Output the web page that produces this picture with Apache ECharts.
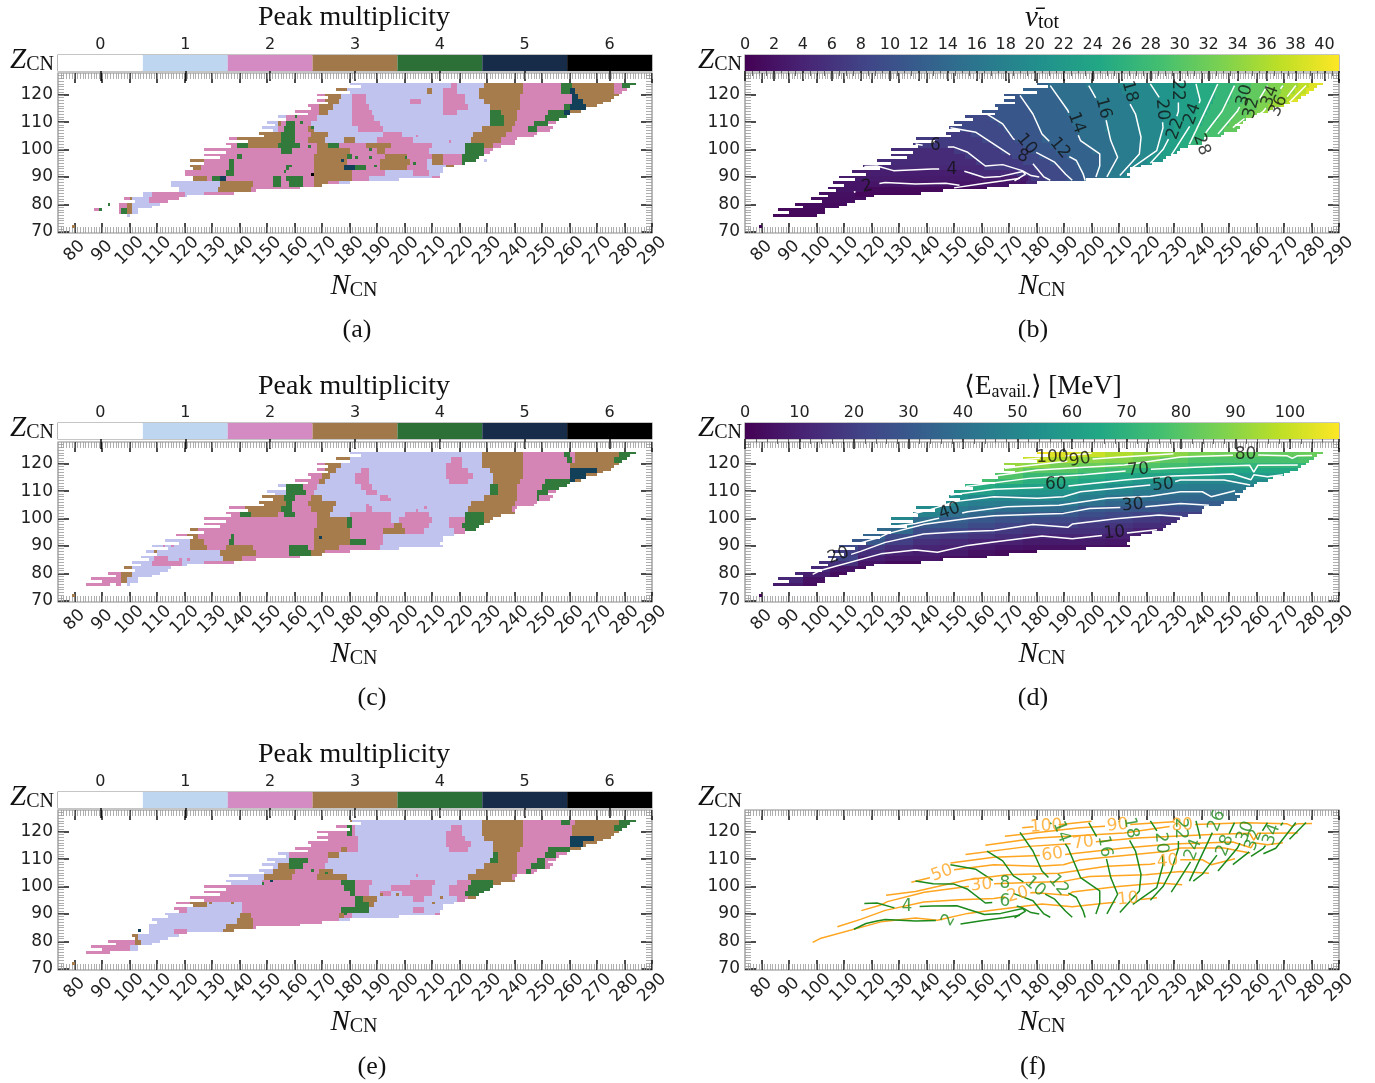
<!DOCTYPE html>
<html><head><meta charset="utf-8">
<style>html,body{margin:0;padding:0;background:#fff}#c{width:1375px;height:1083px}</style>
<script src="https://cdn.jsdelivr.net/npm/echarts@6/dist/echarts.min.js"></script>
</head><body><div id="c"></div>
<script>
const xTicks=[80,90,100,110,120,130,140,150,160,170,180,190,200,210,220,230,240,250,260,270,280,290];
const yTicks=[70,80,90,100,110,120];
const peakLabels=['0','1','2','3','4','5','6'];
// nuclide chart extent, Z = 124 ... 76
const domainTopZ=124;
const domainL=[180,184,175,180,168,172,168,172,165,166,160,165,154,157,150,153,148,152,147,149,136,143,135,137,127,135,127,133,122,127,117,123,113,118,108,114,106,110,104,107,101,104,98,102,92,95,86,90,84];
const domainR=[284,282,281,279,278,276,275,272,270,266,264,260,259,256,255,252,254,253,248,247,241,240,240,235,232,231,229,227,226,222,218,214,214,213,214,198,180,170,162,146,138,121,118,114,111,108,103,103,100];
// rows: Z, start N, value, end N, value, end N ...
const peakA=[
[124,180,1,217,2,219,1,229,3,243,2,257,4,261,3,276,2,279,4,284],
[122,175,3,179,1,208,3,210,1,214,2,219,1,227,3,243,2,257,4,260,5,262,3,276,2,281],
[120,168,2,171,3,177,1,181,2,186,1,214,2,222,1,227,3,242,2,261,5,263,3,278],
[118,168,2,171,3,176,1,181,2,186,1,202,2,206,1,214,2,222,1,229,3,242,2,261,5,265,3,275],
[116,161,2,169,3,174,1,181,2,187,1,214,2,223,1,231,3,242,2,258,4,260,5,266,3,270],
[114,160,2,169,3,172,1,181,2,188,1,214,2,219,1,231,4,235,3,241,2,252,4,258,5,260,3,264],
[112,152,1,157,2,168,1,181,2,189,1,231,4,236,3,241,2,251,4,259],
[110,150,1,154,3,155,2,157,4,160,2,166,1,181,2,191,1,231,4,236,3,240,2,247,4,252,2,255],
[108,148,1,154,2,156,4,160,2,165,3,167,1,183,2,192,1,228,3,239,2,245,4,248,2,254],
[106,142,1,146,3,155,4,160,2,166,3,172,1,192,2,199,1,225,3,237,2,248],
[104,136,2,139,3,155,4,160,2,165,3,171,1,178,3,182,1,190,2,203,1,224,3,235,2,241],
[102,135,2,139,4,143,3,154,4,162,2,168,3,172,4,176,2,186,3,195,2,210,1,222,4,229,3,232,2,240],
[100,127,2,155,4,159,2,168,3,180,2,190,3,193,2,209,1,222,4,229,2,232],
[98,127,2,139,4,141,2,167,3,179,4,181,2,193,3,201,2,210,3,214,2,221,4,229],
[96,122,3,127,2,136,4,138,2,167,3,179,2,191,3,202,2,208,1,210,3,214,2,221,4,226],
[94,122,3,126,2,136,4,138,2,157,4,158,2,167,3,178,5,182,4,186,2,191,3,201,2,208,1,215,3,220,5,222],
[92,120,2,135,4,138,2,167,3,181,2,193,1,203,2,209,1,214],
[90,123,3,128,2,130,4,133,5,135,2,152,4,155,2,157,4,163,2,167,3,181,2,187,1,210,2,213],
[88,115,1,133,3,145,2,152,4,155,2,158,4,163,2,167,3,172,2,176,1,198],
[86,118,1,132,3,144,2,162],
[84,105,1,108,2,120,1,127,2,138],
[82,97,2,100,3,101,1,107,2,119],
[80,91,4,93,0,96,2,99,3,101,1,111],
[78,87,2,89,4,90,0,96,2,97,4,99,3,101,1,103],
[76,99,1,100]];
const speckA=[[79,72,3],[160,112,4],[162,110,4],[166,108,4],[165,101,4],[158,94,4],[156,92,4],[177,96,5],[182,97,4],[187,100,4],[187,97,4],[189,94,4],[203,95,4],[200,97,4],[166,91,6],[229,96,1],[216,103,2],[204,105,2]];
const peakC=[
[124,180,1,228,3,243,2,258,4,260,2,262,3,278,4,284],
[122,175,3,180,1,217,2,221,1,228,3,243,2,259,4,261,2,262,3,276,4,281],
[120,168,2,171,3,177,1,215,2,221,1,228,3,243,2,260,3,278],
[118,168,2,171,3,175,1,184,2,187,1,215,2,223,1,231,3,243,2,260,5,270,3,276],
[116,165,2,170,3,173,1,182,2,187,1,215,2,225,1,232,3,243,2,260,5,266,3,271],
[114,160,2,169,3,171,1,182,2,187,1,216,2,223,1,232,3,242,2,251,4,260,5,262,3,265],
[112,153,1,157,4,163,2,168,1,184,2,188,1,231,4,234,3,241,2,250,4,259],
[110,150,1,157,4,164,2,167,1,186,2,190,1,231,4,234,3,241,2,248,4,252,2,255],
[108,148,3,156,4,160,2,166,3,170,1,191,2,194,1,229,3,241,2,248,4,249,2,254],
[106,144,3,157,4,159,2,165,3,175,1,224,3,240,2,248],
[104,136,2,142,3,155,4,159,2,166,3,174,1,186,2,188,1,223,3,239,2,241],
[102,135,2,140,4,144,3,154,2,156,4,160,2,168,3,173,1,180,2,195,1,200,2,209,1,222,4,229,3,240],
[100,127,2,168,3,179,4,181,2,195,1,198,2,210,1,216,2,222,4,229,3,232],
[98,127,2,168,3,179,4,181,2,196,3,199,2,209,1,216,2,221,4,229],
[96,120,3,125,2,167,3,180,2,192,3,200,2,207,1,218,2,222,4,226],
[94,117,2,121,3,125,2,137,4,138,2,167,3,180,2,192,1,218],
[92,113,1,122,3,127,2,136,4,138,2,167,3,180,4,186,2,192,1,214],
[90,108,1,122,3,128,2,135,3,145,2,158,4,165,2,167,3,176,2,191,1,214],
[88,106,1,133,3,146,2,158,4,166,3,171,2,190,1,198],
[86,104,1,109,2,114,1,134,3,141,2,162],
[84,101,1,108,2,119,1,127,2,138],
[82,98,3,101,1,115],
[80,91,2,97,3,101,1,111],
[78,86,2,97,3,99,1,103],
[76,84,2,93,0,95,2,97,0,99,1,100]];
const speckC=[[79,72,3],[169,93,5],[112,90,2],[115,90,2],[109,88,3],[121,85,2],[118,85,2],[204,103,2],[207,104,2],[186,105,2],[194,107,2]];
const peakE=[
[124,180,3,181,1,228,3,243,2,257,4,260,2,262,3,278,4,284],
[122,175,2,179,4,181,2,182,1,217,2,221,1,228,3,243,2,261,3,276,4,281],
[120,168,2,179,4,181,2,182,1,215,2,221,1,228,3,243,2,261,3,278],
[118,168,2,183,1,215,2,222,1,229,3,243,2,260,5,269,3,275],
[116,165,2,183,1,215,2,224,1,232,3,243,2,260,5,265,3,271],
[114,160,2,177,3,179,2,183,1,216,2,223,1,232,3,242,2,252,4,260,3,264],
[112,153,1,158,2,172,3,176,1,232,4,234,3,241,2,251,4,255,2,259],
[110,150,1,158,4,165,2,172,1,231,4,234,3,241,2,248,4,251,2,255],
[108,148,1,154,3,158,4,163,2,171,1,229,3,241,2,246,4,251,2,254],
[106,147,1,152,3,160,2,169,3,174,1,226,3,241,2,244,4,246,2,248],
[104,136,1,149,3,159,2,168,3,179,1,223,3,239,2,241],
[102,135,1,148,2,177,4,182,2,188,1,202,2,211,1,219,2,224,4,232,3,240],
[100,127,2,178,4,182,2,187,1,195,2,210,1,216,2,223,4,232],
[98,127,2,180,4,182,2,187,1,191,2,195,1,199,2,210,1,216,2,222,4,229],
[96,122,2,182,4,185,3,190,1,203,2,207,1,219,2,223,3,226],
[94,117,2,122,3,128,1,141,2,182,4,187,3,189,1,218],
[92,116,2,121,1,141,2,177,4,187,1,203,2,207,1,214],
[90,113,1,140,3,144,2,176,3,178,2,181,1,211,2,213],
[88,108,1,139,3,145,2,176,1,198],
[86,107,1,135,3,145,2,162],
[84,107,1,116,2,121,1,134,3,139],
[82,101,3,103,1,118],
[80,92,2,102,3,104,1,111],
[78,86,2,100,1,103],
[76,84,2,93]];
const speckE=[[79,72,3],[151,102,5],[148,101,4],[103,84,5],[171,105,4],[166,106,4],[204,104,2],[210,94,3],[213,96,3],[197,97,3],[191,97,3],[129,94,3],[137,94,3],[178,90,4]];
const nuRows=[
[124,180,13,184,15,198,17,210,19,221,21,232,23,238,25,246,27,252,29,258,31,264,33,270,35,275,37,279,39,284],
[122,175,13,186,15,200,17,211,19,223,21,232,23,238,25,245,27,251,29,257,31,263,33,269,35,274,37,278,39,281],
[120,168,11,174,13,188,15,201,17,213,19,224,21,232,23,239,25,245,27,251,29,256,31,262,33,268,35,272,37,276,39,278],
[118,168,11,176,13,189,15,202,17,214,19,225,21,232,23,239,25,244,27,250,29,255,31,261,33,266,35,271,37,273,39,275],
[116,165,11,177,13,190,15,203,17,215,19,225,21,232,23,238,25,243,27,248,29,254,31,260,33,264,35,269,37,270],
[114,160,11,178,13,191,15,204,17,216,19,226,21,232,23,238,25,242,27,247,29,253,31,258,33,262,35,264],
[112,154,9,163,11,179,13,192,15,205,17,216,19,226,21,231,23,237,25,241,27,246,29,251,31,256,33,259],
[110,150,9,166,11,180,13,193,15,205,17,217,19,226,21,230,23,236,25,240,27,244,29,250,31,254,33,255],
[108,148,9,168,11,181,13,194,15,205,17,217,19,226,21,230,23,235,25,238,27,243,29,248,31,254],
[106,147,7,156,9,170,11,182,13,195,15,206,17,218,19,225,21,229,23,234,25,237,27,241,29,248],
[104,136,7,160,9,172,11,182,13,196,15,207,17,218,19,225,21,228,23,232,25,236,27,241],
[102,135,7,164,9,175,11,185,13,198,15,208,17,218,19,224,21,227,23,231,25,235,27,240],
[100,127,5,150,7,167,9,178,11,187,13,200,15,208,17,218,19,224,21,226,23,232],
[98,127,5,154,7,171,9,181,11,191,13,203,15,209,17,217,19,222,21,225,23,229],
[96,122,5,158,7,175,9,185,11,194,13,203,15,209,17,215,19,220,21,226],
[94,117,4.6,161,7,179,9,188,11,195,13,202,15,208,17,214,19,218],
[92,113,3.4,156,5,173,7,182,9,190,11,196,13,202,15,206,17,212,19,214],
[90,108,3,177,5,178,7,183,9,191,11,197,13,202,15,206,17,210,19,214],
[88,106,2.4,176,5,180,7,185,9,192,11,198],
[86,104,2.2,118,1,162],
[84,101,1.8,114,0.8,138],
[82,98,1.5,119],
[80,92,1.2,111],
[78,86,1,103],
[76,84,0.8,100]];
const speckNu=[[79,72,0.5]];
const eRows=[
[124,180,108,185,104,195,100,205,96,215,92,225,90,235,87,245,85,255,83,265,83,275,84,284],
[122,175,100,185,96,195,90,205,89,215,86,225,81,235,78,245,78,255,77,265,77,275,78,281],
[120,168,92,175,90,185,86,195,84,205,81,215,79,225,76,235,73,245,71,278],
[118,168,87,175,81,185,80,195,77,205,74,215,70,225,68,235,67,245,65,275],
[116,165,79,175,73,185,72,195,68,205,66,215,63,225,61,235,60,245,58,255,59,265,60,270],
[114,160,76,165,72,175,68,185,67,195,64,205,60,215,57,225,52,235,50,255,52,264],
[112,154,70,155,67,165,64,175,62,185,61,195,58,205,53,215,49,225,46,235,45,259],
[110,150,62,155,60,165,57,175,56,185,55,195,50,205,47,215,44,225,41,235,40,245,41,255],
[108,148,55,155,51,165,50,175,51,185,50,195,45,205,41,215,39,225,37,235,36,245,38,254],
[106,147,50,155,46,165,45,175,44,195,40,205,36,215,34,225,32,248],
[104,136,52,145,44,155,41,165,39,185,38,195,31,205,30,215,29,225,26,235,27,241],
[102,135,48,145,40,155,36,165,33,175,31,185,30,195,26,205,24,215,22,225,21,235,20,240],
[100,127,50,135,40,145,33,155,30,165,27,175,25,185,24,195,21,205,20,215,18,225,15,232],
[98,127,45,135,30,145,29,155,25,165,22,175,20,195,17,205,16,215,14,225,12,229],
[96,122,37,135,25,145,23,155,20,165,18,175,16,185,15,205,13,215,10,226],
[94,117,35,125,25,135,20,145,18,155,16,165,14,175,11,205,10,218],
[92,113,30,125,20,135,15,145,13,155,11,165,10,175,8,205,7,214],
[90,108,25,115,18,125,14,135,11,145,10,155,8,165,6,175,5,205,4,214],
[88,106,20,115,14,125,10,135,9,145,8,155,5,165,3,175,2,185,1,198],
[86,104,22,115,9,125,7,145,4,155,3,162],
[84,101,15,115,6,125,3,138],
[82,98,12,105,6,115,3,119],
[80,92,12,95,9,105,3,111],
[78,86,12,95,5,103],
[76,84,8,95,4,100]];
const speckE2=[[79,72,1]];
const nuLevels=[2,4,6,8,10,12,14,16,18,20,22,24,26,28,30,32,34,36,38];
const nuLines=[
[[113.6,84.4],[118,86.5],[122,87.4],[125,88],[136,87.4],[147,87.7],[152,87],null,[150,86],[160,87.5],[168,88.6],[174,89.5]],
[[117.4,93.8],[122,94],[128,92.3],[142,92.9],[151,93],[155,91.7],[161,89.8],[167,90.2],[175,92],[176,91],[172,88.6]],
[[136,102],[142.4,101],[150,100.9],[155,99],[161.4,94],[167.7,94.5],[174.8,92.3],[178,90.5],[181,90]],
[[148.7,108],[158,106.3],[164.5,102],[170.8,97.8],[178.7,94.8],[182.7,90],[185,88.8]],
[[162,113],[167.7,109.4],[171.6,103.9],[178.7,99.6],[186.6,95.4],[190.6,91],[193,88.8]],
[[174,119.8],[178.7,113],[182,105.7],[188,99.6],[194.5,96],[197,91],[197.7,88.7]],
[[185,123.4],[191.4,114.3],[196,103.3],[203,98.4],[203,94],[201.6,90]],
[[199,123.4],[204.8,113],[207,103.3],[209.5,97.2],[205.6,90]],
[[210,124],[216,113],[218,104.5],[217.4,98.4],[210.3,90.5]],
[[221.4,124],[225.3,118],[226,108],[223.7,99.6],[215,93.5]],
[[231.6,124],[231.6,114],[229,105.7],[226,100],[221.4,95]],
[[238,124],[239.5,118],[237,110.6],[230.9,100.9],[229,98]],
[[245.9,124],[242,115.5],[238,107],[235.6,102]],
[[252,123.4],[247.5,114],[240.3,104.5],[237,102]],
[[258,123.4],[253,114],[246,105.7]],
[[264,123.4],[257.7,113],[251.4,108]],
[[269.6,123.4],[262.5,114],[258,111]],
[[274.3,123.4],[267,114],[262.5,112]],
[[278,123.4],[272,117.3]]];
// text, N, Z, rotation
const nuLabelsB=[['2',118.4,86.5,12],['4',149.2,92.7,0],['6',143.2,101.5,0],['8',175,97.5,-20],['10',176.4,102,-50],['12',188.5,100.5,-50],['14',194.5,109.8,-70],['16',204.3,115.2,-75],['18',213.8,121.2,-75],['20',225.7,114.6,-85],['22',231.3,121.8,-90],['22',230.6,107.6,70],['24',236.7,113,70],['28',240,101.8,-70],['30',255.7,119.8,75],['32',258.2,115.2,75],['34',265,119.5,70],['36',268,116,65]];
const nuLabelsF=[['2',148,87.8,60],['4',132.9,92.7,0],['6',168.5,94.5,0],['8',168.5,101,0],['10',179.5,100,-40],['12',188,100.5,-50],['14',189,120,-70],['16',204.8,114.7,-80],['18',214.3,121.5,-80],['20',225.3,116,-85],['22',232.4,121.2,-90],['24',237,113.5,70],['26',245.6,124,70],['28',248.6,115,70],['30',256,120,70],['32',259,117,70],['34',265.6,119,70]];
const eLevels=[10,20,30,40,50,60,70,80,90,100];
const eLines=[
[[98.6,79.6],[101.3,81],[123.4,87.1],[136,88.5],[144,87.7],[155,90.2],[164.5,91.4],[182,93.6],[193,92.6],[204,93.8],[213.5,94.8],[223.8,95.9]],
[[107.6,85.3],[116,88],[125,91.3],[139,94.4],[152,95.2],[164.5,95.6],[178.7,97.8],[191.4,96.8],[193,98],[208.8,99.9],[224.5,101.3],[233,100.7]],
[[116.3,91.2],[123.4,93.3],[125.8,94.5],[139.2,97.9],[155,100],[164.5,101],[180.3,101.6],[189.8,101.9],[199.3,103.7],[219.8,104.3],[232.4,105.5],[242.7,104.9]],
[[125.3,96.8],[136,98.2],[144,100],[155,102.5],[169.3,104.3],[188.2,104.9],[205.6,107.4],[221.4,108.2],[232.4,109.8],[240.3,109.8],[243.5,108],[252.2,110.2]],
[[134.5,101.6],[140.8,103.1],[150.3,106.2],[164.5,108],[180.3,107.4],[189.8,108],[196,109.8],[211.9,111.4],[227.7,112.9],[232.4,114.1],[248.2,114.1],[257.7,112.3]],
[[148.7,108.6],[164.5,110.7],[181.9,111.4],[189.8,111.7],[211.9,114.1],[229.3,115.6],[251.4,116.3],[258,114.2],[259,116],[264,115.3],[269.6,116]],
[[154.2,111.7],[177.2,114.7],[196.9,116],[216.6,117.8],[243.5,119],[257.5,119.5],[259,117],[260.5,119.5],[275,119.6]],
[[161.4,115.1],[180.3,117.8],[211.9,119.6],[232.4,122.5],[256.1,123.3],[271,123],[273,122],[275,123],[280.2,123.1]],
[[168.5,118.4],[195.8,121.5],[209.5,122.4],[229.8,123.7]],
[[174.8,121.5],[185.8,122.4],[200,123.9]]];
const eLabelsD=[['10',208.3,94.8,5],['20',108,86.5,20],['30',215,104.9,5],['40',148.4,102.7,20],['50',226,112.3,5],['60',187,112.3,0],['70',217,117.8,5],['80',256,123.3,0],['90',195.8,121.5,10],['100',185.8,122.4,0]];
const eLabelsF=[['10',213.2,95.4,5],['20',173.2,97,15],['30',160,100.5,5],['40',227.7,109.2,5],['50',145.6,104.9,20],['60',185.8,111.7,8],['70',197,116,8],['80',233,122.3,3],['90',209.5,122.4,5],['100',183.5,122,3]];

const catMap=['#ffffff','#c1c3ef','#d585b5','#a67c4d','#317a3c','#124058','#000000'];
const catBar=['#ffffff','#bfd6f1','#d48bc3','#a07849','#2c7038','#172c48','#000000'];
const vir=['#440154','#482475','#414487','#355f8d','#2a788e','#21918c','#22a884','#44bf70','#7ad151','#bddf26','#fde725'];
function hex(c){return [1,3,5].map(i=>parseInt(c.substr(i,2),16));}
function viridis(t){t=Math.max(0,Math.min(1,t))*10;const i=Math.min(9,Math.floor(t)),f=t-i,a=hex(vir[i]),b=hex(vir[i+1]);
  return 'rgb('+a.map((v,k)=>Math.round(v+(b[k]-v)*f)).join(',')+')';}

function cells(rows,specks){
  const out=[];
  rows.forEach(r=>{
    [r[0],r[0]-1].forEach(z=>{
      const k=domainTopZ-z; if(k<0||k>=domainL.length) return;
      const L=domainL[k],R=domainR[k];
      for(let i=1;i+2<r.length;i+=2){
        const a=Math.max(r[i],L),b=Math.min(r[i+2],R);
        if(b>a&&(r[i+1]>0)) out.push([a,b,z,r[i+1]]);
      }
    });
  });
  specks.forEach(s=>out.push([s[0],s[0]+1,s[1],s[2]]));
  return out;
}
// leaves a gap in a contour where its inline label sits (as contour labelling does)
function gapLines(levels,polys,labs,r){
  return polys.map((pl,i)=>{
    let cur=pl;
    labs.filter(l=>+l[0]===levels[i]).forEach(l=>{
      const out=[];let prev=null;
      cur.forEach(p=>{
        if(!p){out.push(null);prev=null;return;}
        if(prev){
          const dx=p[0]-prev[0],dy=p[1]-prev[1],fx=prev[0]-l[1],fy=prev[1]-l[2];
          const A=dx*dx+dy*dy,B=2*(fx*dx+fy*dy),C=fx*fx+fy*fy-r*r,D=B*B-4*A*C;
          if(D>0){
            const t0=(-B-Math.sqrt(D))/(2*A),t1=(-B+Math.sqrt(D))/(2*A);
            const inA=t0>0&&t0<1,inB=t1>0&&t1<1;
            if(inA) out.push([prev[0]+dx*t0,prev[1]+dy*t0]);
            if(inA||inB) out.push(null);
            if(inB) out.push([prev[0]+dx*t1,prev[1]+dy*t1]);
          }
        }
        const inside=Math.hypot(p[0]-l[1],p[1]-l[2])<r;
        if(!inside) out.push(p);
        prev=p;
      });
      cur=out;
    });
    return cur;
  });
}

const W=594,PH=160,CBH=16;
const cols=[58,745],rowsY=[73,442,810],cbY=[55,423,792];
const grid=[],xAxis=[],yAxis=[],series=[],title=[];
const minorX=[];for(let i=75;i<=290;i++)minorX.push(i);
const minorY=[];for(let i=70;i<=127;i++)minorY.push(i);

function plot(left,top){
  const g=grid.length;
  grid.push({left,top,width:W,height:PH,show:true,borderColor:'#8c8c8c',borderWidth:1.2,backgroundColor:'transparent'});
  const bx={gridIndex:g,type:'value',min:74,max:290,axisLine:{show:false},splitLine:{show:false},silent:true};
  const by={gridIndex:g,type:'value',min:69.5,max:128,axisLine:{show:false},splitLine:{show:false},silent:true};
  const minorStyle={color:'#999',width:0.8},majorStyle={color:'#111',width:1.5};
  const xi=xAxis.length,yi=yAxis.length;
  xAxis.push(Object.assign({},bx,{position:'bottom',axisTick:{show:true,inside:true,length:10,customValues:xTicks,lineStyle:majorStyle},
    axisLabel:{show:true,customValues:xTicks,rotate:45,align:'center',verticalAlign:'middle',margin:18,fontSize:17,color:'#222',fontFamily:'DejaVu Sans',hideOverlap:false}}));
  yAxis.push(Object.assign({},by,{position:'left',axisTick:{show:true,inside:true,length:11,customValues:yTicks,lineStyle:majorStyle},
    axisLabel:{show:true,customValues:yTicks,margin:5,fontSize:17,color:'#222',fontFamily:'DejaVu Sans',padding:[5,0,0,0]}}));
  xAxis.push(Object.assign({},bx,{position:'top',axisTick:{show:true,inside:true,length:10,customValues:xTicks,lineStyle:majorStyle},axisLabel:{show:false}}));
  yAxis.push(Object.assign({},by,{position:'right',axisTick:{show:true,inside:true,length:11,customValues:yTicks,lineStyle:majorStyle},axisLabel:{show:false}}));
  xAxis.push(Object.assign({},bx,{position:'bottom',axisTick:{show:true,inside:true,length:6,customValues:minorX,lineStyle:minorStyle},axisLabel:{show:false}}));
  xAxis.push(Object.assign({},bx,{position:'top',axisTick:{show:true,inside:true,length:6,customValues:minorX,lineStyle:minorStyle},axisLabel:{show:false}}));
  yAxis.push(Object.assign({},by,{position:'left',axisTick:{show:true,inside:true,length:6,customValues:minorY,lineStyle:minorStyle},axisLabel:{show:false}}));
  yAxis.push(Object.assign({},by,{position:'right',axisTick:{show:true,inside:true,length:6,customValues:minorY,lineStyle:minorStyle},axisLabel:{show:false}}));
  return {xi,yi};
}
function cellSeries(ax,data,fill){
  series.push({type:'custom',xAxisIndex:ax.xi,yAxisIndex:ax.yi,data,silent:true,animation:false,clip:true,
    encode:{x:[0,1],y:2},
    renderItem(p,api){
      const a=api.coord([api.value(0),api.value(2)+0.5]),b=api.coord([api.value(1),api.value(2)-0.5]);
      const x0=Math.round(a[0]),y0=Math.round(a[1]),x1=Math.round(b[0]),y1=Math.round(b[1]);
      return {type:'rect',shape:{x:x0,y:y0,width:x1-x0,height:y1-y0},style:{fill:fill(api.value(3))}};
    }});
}
function lines(ax,levels,polys,color,width){
  polys.forEach((pl,i)=>series.push({type:'line',name:String(levels[i]),xAxisIndex:ax.xi,yAxisIndex:ax.yi,silent:true,animation:false,
    data:pl.map(p=>p||['-','-']),showSymbol:false,symbol:'none',lineStyle:{color,width},z:3}));
}
function labels(ax,lab,color,size){
  series.push({type:'scatter',xAxisIndex:ax.xi,yAxisIndex:ax.yi,silent:true,animation:false,symbolSize:1,itemStyle:{color:'rgba(0,0,0,0)'},z:4,
    data:lab.map(l=>({value:[l[1],l[2]],label:{show:true,position:'inside',formatter:l[0],rotate:l[3],color,fontSize:size,fontFamily:'DejaVu Sans'}}))});
}
function catBarAxis(left,top){
  const g=grid.length;
  grid.push({left,top,width:W,height:CBH,show:true,borderColor:'#8c8c8c',borderWidth:1.2,backgroundColor:'transparent'});
  const xi=xAxis.length,yi=yAxis.length;
  xAxis.push({gridIndex:g,type:'category',data:peakLabels,position:'top',boundaryGap:true,axisLine:{show:false},
    axisTick:{show:true,inside:true,alignWithLabel:true,length:10,lineStyle:{color:'#111',width:1.5}},
    axisLabel:{show:true,margin:2,fontSize:16,color:'#222',fontFamily:'DejaVu Sans'}});
  yAxis.push({gridIndex:g,type:'value',min:0,max:1,show:false});
  series.push({type:'bar',xAxisIndex:xi,yAxisIndex:yi,barWidth:'100%',silent:true,animation:false,z:1,
    data:peakLabels.map((l,i)=>({value:1,itemStyle:{color:catBar[i]}}))});
}
function contBarAxis(left,top,max,interval,split){
  const g=grid.length;
  grid.push({left,top,width:W,height:CBH,show:true,borderColor:'#8c8c8c',borderWidth:1.2,backgroundColor:'transparent'});
  const xi=xAxis.length,yi=yAxis.length;
  xAxis.push({gridIndex:g,type:'value',min:0,max,interval,position:'top',axisLine:{show:false},splitLine:{show:false},
    axisTick:{show:true,inside:true,length:10,lineStyle:{color:'#111',width:1.5}},
    minorTick:{show:true,splitNumber:split,length:5,lineStyle:{color:'#444',width:0.8}},
    axisLabel:{show:true,margin:2,fontSize:16,color:'#222',fontFamily:'DejaVu Sans',showMaxLabel:false}});
  yAxis.push({gridIndex:g,type:'value',min:0,max:1,show:false});
  const stops=vir.map((c,i)=>({offset:i/10,color:c}));
  series.push({type:'custom',xAxisIndex:xi,yAxisIndex:yi,silent:true,animation:false,data:[[0,max]],encode:{x:[0,1]},z:1,
    renderItem(p,api){
      const a=api.coord([api.value(0),1]),b=api.coord([api.value(1),0]);
      return {type:'rect',shape:{x:a[0],y:a[1],width:b[0]-a[0],height:b[1]-a[1]},
        style:{fill:new echarts.graphic.LinearGradient(0,0,1,0,stops)}};
    }});
}
const serif='"Liberation Serif","DejaVu Serif",serif';
const base={fontFamily:serif,color:'#111',fontWeight:'normal'};
const rich={
  t:Object.assign({},base,{fontSize:28}),
  i:Object.assign({},base,{fontSize:29,fontStyle:'italic'}),
  s:Object.assign({},base,{fontSize:20,padding:[10,0,0,0]}),
  e:Object.assign({},base,{fontSize:27}),
  f:Object.assign({},base,{fontSize:18,padding:[10,0,0,0]}),
  c:Object.assign({},base,{fontSize:26})
};
function txt(text,x,y){title.push({text,left:x,top:y,padding:0,textAlign:'center',textVerticalAlign:'middle',textStyle:{rich,fontFamily:serif,fontWeight:'normal',fontSize:26,color:'#111'}});}
const vn=v=>viridis(v/41), ve=v=>viridis(v/109), vc=v=>catMap[v];

// panels
[[0,0,peakA,speckA,'(a)',357],[0,1,peakC,speckC,'(c)',372],[0,2,peakE,speckE,'(e)',372]].forEach(([c,r,rows,sp,tag,tx])=>{
  catBarAxis(cols[c],cbY[r]);
  const ax=plot(cols[c],rowsY[r]);
  cellSeries(ax,cells(rows,sp),vc);
  txt('{t|Peak multiplicity}',354,[18,387,755][r]);
  txt('{i|Z}{s|CN}',32,[60,428,797][r]);
  txt('{i|N}{s|CN}',354,[286,654,1022][r]);
  txt('{c|'+tag+'}',tx,[330,698,1067][r]);
});
const gapR=4.6;
// b
contBarAxis(cols[1],cbY[0],41,2,4);
let ax=plot(cols[1],rowsY[0]);
cellSeries(ax,cells(nuRows,speckNu),vn);
lines(ax,nuLevels,gapLines(nuLevels,nuLines,nuLabelsB,gapR),'#ffffff',1.5);
labels(ax,nuLabelsB,'#111',17);
txt('{i|ν̄}{s|tot}',1042,18);txt('{i|Z}{s|CN}',720,60);txt('{i|N}{s|CN}',1042,286);txt('{c|(b)}',1033,330);
// d
contBarAxis(cols[1],cbY[1],109,10,5);
ax=plot(cols[1],rowsY[1]);
cellSeries(ax,cells(eRows,speckE2),ve);
lines(ax,eLevels,gapLines(eLevels,eLines,eLabelsD,gapR),'#ffffff',1.5);
labels(ax,eLabelsD,'#111',17);
txt('{e|⟨E}{f|avail.}{e|⟩ [MeV]}',1043,387);txt('{i|Z}{s|CN}',720,428);txt('{i|N}{s|CN}',1042,654);txt('{c|(d)}',1033,698);
// f
ax=plot(cols[1],rowsY[2]);
lines(ax,eLevels,gapLines(eLevels,eLines,eLabelsF,gapR),'#ffa51f',1.5);
lines(ax,nuLevels,gapLines(nuLevels,nuLines,nuLabelsF,gapR),'#1c8a1c',1.5);
labels(ax,eLabelsF,'#ffa51f',17);
labels(ax,nuLabelsF,'#1c8a1c',17);
txt('{i|Z}{s|CN}',720,797);txt('{i|N}{s|CN}',1042,1022);txt('{c|(f)}',1033,1067);

const chart=echarts.init(document.getElementById('c'),null,{renderer:'canvas'});
chart.setOption({animation:false,backgroundColor:'#fff',title,grid,xAxis,yAxis,series,tooltip:{show:false}});
</script></body></html>
